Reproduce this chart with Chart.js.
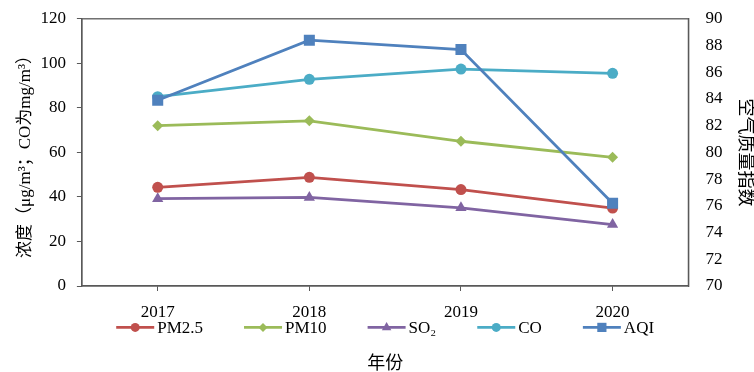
<!DOCTYPE html>
<html>
<head>
<meta charset="utf-8">
<script src="https://cdn.jsdelivr.net/npm/chart.js@4/dist/chart.umd.min.js"></script>
<style>
  html, body { margin: 0; padding: 0; background: #fff; }
</style>
</head>
<body>
<canvas id="c" width="754" height="372"></canvas>
<script>
// Annual pollutant concentrations and air quality index
const years = ['2017', '2018', '2019', '2020'];
const pm25 = [44.3, 48.8, 43.3, 35.0];
const pm10 = [72.0, 74.2, 65.0, 57.8];
const so2  = [39.2, 39.8, 35.1, 27.6];
const co   = [85.0, 92.8, 97.4, 95.5];
const aqi  = [83.9, 88.4, 87.7, 76.2];

const FONT = "'Liberation Serif', 'Times New Roman', 'Noto Sans CJK SC', serif";
const AXIS_COLOR = '#595959';
const TEXT_SIZE = 17;

function series(label, data, color, style, radius, axis, order, legendRadius) {
  return {
    label: label,
    data: data,
    yAxisID: axis,
    borderColor: color,
    backgroundColor: color,
    pointBackgroundColor: color,
    pointBorderColor: color,
    pointBorderWidth: 0,
    borderWidth: 2.8,
    pointStyle: style,
    pointRadius: radius,
    pointHoverRadius: radius,
    tension: 0,
    order: order,
    legendRadius: legendRadius
  };
}

const datasets = [
  series('PM2.5', pm25, '#C0504D', 'circle', 5.5, 'y', 1, 4.5),
  series('PM10', pm10, '#9BBB59', 'rectRot', 5.5, 'y', 1, 4.5),
  series('SO\u2082', so2, '#8064A2', 'triangle', 6.5, 'y', 1, 5.5),
  series('CO', co, '#4BACC6', 'circle', 5.5, 'y', 1, 4.5),
  series('AQI', aqi, '#4F81BD', 'rect', 7.8, 'y1', 0, 6.5)
];

// Frame around the plotting area (top and right edges included)
const frame = {
  id: 'frame',
  afterDatasetsDraw(chart) {
    const a = chart.chartArea;
    const ctx = chart.ctx;
    ctx.save();
    ctx.strokeStyle = AXIS_COLOR;
    ctx.lineWidth = 1.3;
    ctx.strokeRect(a.left, a.top, a.right - a.left, a.bottom - a.top);
    ctx.restore();
  }
};

// Single-row legend (line + marker + name) placed between the year labels and the axis title
const SWATCH_W = 38, SWATCH_GAP = 3, ITEM_GAP = 41;
const X_TITLE_PAD_TOP = 20, X_TITLE_PAD_BOTTOM = -3;
const lineLegend = {
  id: 'lineLegend',
  afterDraw(chart) {
    const ctx = chart.ctx;
    const xs = chart.scales.x;
    const titleBlock = 18 * 1.2 + X_TITLE_PAD_BOTTOM;
    const cy = xs.bottom - titleBlock - X_TITLE_PAD_TOP - 6;
    ctx.save();
    ctx.font = TEXT_SIZE + 'px ' + FONT;
    ctx.textBaseline = 'middle';
    ctx.textAlign = 'left';
    const ds = chart.data.datasets;
    const widths = ds.map(d => SWATCH_W + SWATCH_GAP + ctx.measureText(d.label).width);
    const total = widths.reduce((s, w) => s + w, 0) + ITEM_GAP * (ds.length - 1);
    let x = (chart.chartArea.left + chart.chartArea.right) / 2 - total / 2;
    ds.forEach((d, i) => {
      ctx.strokeStyle = d.borderColor;
      ctx.fillStyle = d.borderColor;
      ctx.lineWidth = 2.6;
      ctx.beginPath();
      ctx.moveTo(x, cy);
      ctx.lineTo(x + SWATCH_W, cy);
      ctx.stroke();
      Chart.helpers.drawPoint(ctx, { pointStyle: d.pointStyle, radius: d.legendRadius, rotation: 0, borderWidth: 0 }, x + SWATCH_W / 2, cy);
      ctx.fillStyle = '#000';
      ctx.fillText(d.label, x + SWATCH_W + SWATCH_GAP, cy + 1);
      x += widths[i] + ITEM_GAP;
    });
    ctx.restore();
  }
};

new Chart(document.getElementById('c'), {
  type: 'line',
  data: { labels: years, datasets: datasets },
  options: {
    responsive: false,
    animation: false,
    layout: { padding: { left: 15, right: -14, top: -6, bottom: 0 } },
    plugins: {
      tooltip: { enabled: false },
      legend: { display: false }
    },
    scales: {
      x: {
        offset: true,
        grid: { display: true, drawOnChartArea: false, offset: false, tickLength: 5, tickColor: AXIS_COLOR },
        border: { display: true, color: AXIS_COLOR, width: 1.3 },
        ticks: { color: '#000', padding: 11, font: { family: FONT, size: TEXT_SIZE }, maxRotation: 0 },
        title: {
          display: true,
          text: '年份',
          color: '#000',
          font: { family: FONT, size: 18 },
          padding: { top: X_TITLE_PAD_TOP, bottom: X_TITLE_PAD_BOTTOM }
        }
      },
      y: {
        position: 'left',
        min: 0, max: 120,
        ticks: { stepSize: 20, color: '#000', padding: 11, font: { family: FONT, size: TEXT_SIZE, lineHeight: 0.8 } },
        grid: { display: true, drawOnChartArea: false, tickLength: 5, tickColor: AXIS_COLOR },
        border: { display: true, color: AXIS_COLOR, width: 1.3 },
        title: {
          display: true,
          text: '浓度（μg/m³；CO为mg/m³）',
          color: '#000',
          font: { family: FONT, size: 17 },
          padding: { top: 0, bottom: -6 }
        }
      },
      y1: {
        position: 'right',
        min: 70, max: 90,
        ticks: { stepSize: 2, color: '#000', padding: 12, font: { family: FONT, size: TEXT_SIZE, lineHeight: 0.8 } },
        grid: { display: true, drawOnChartArea: false, tickLength: 5, tickColor: 'rgba(0,0,0,0)' },
        border: { display: true, color: AXIS_COLOR, width: 1.3 },
        title: {
          display: true,
          text: '空气质量指数',
          color: '#000',
          font: { family: FONT, size: 18 },
          padding: { top: 12, bottom: 0 }
        }
      }
    }
  },
  plugins: [frame, lineLegend]
});
</script>
</body>
</html>
